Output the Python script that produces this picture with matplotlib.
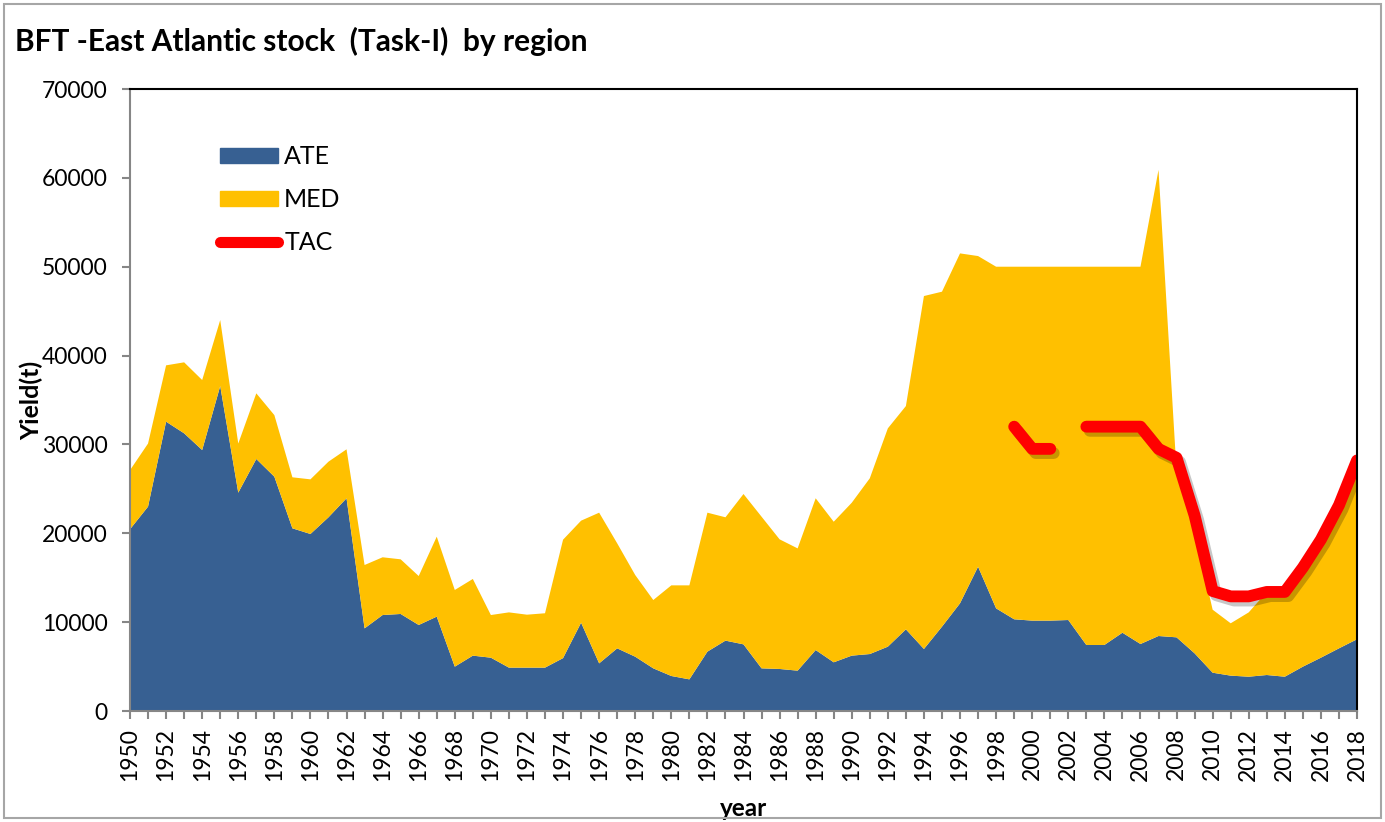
import matplotlib.pyplot as plt
import matplotlib.patheffects as pe
from matplotlib.patches import Rectangle
from matplotlib.lines import Line2D
import numpy as np

plt.rcParams['font.family'] = ['Lato', 'DejaVu Sans']

years = list(range(1950, 2019))

# catches by region (t)
ate = [20450, 23000, 32560, 31250, 29370, 36570, 24570, 28360, 26370, 20560,
       19920, 21800, 23940, 9300, 10800, 10920, 9680, 10620, 4990, 6230,
       6000, 4880, 4880, 4880, 5950, 9940, 5360, 7050, 6110, 4800,
       3940, 3560, 6680, 7920, 7500, 4800, 4730, 4540, 6860, 5480,
       6230, 6410, 7240, 9190, 6980, 9490, 12120, 16240, 11550, 10320,
       10170, 10170, 10240, 7430, 7430, 8810, 7540, 8440, 8290, 6490,
       4310, 3980, 3860, 4050, 3860, 4990, 6000, 7050, 8070]
med = [6650, 7100, 6340, 7990, 7880, 7430, 5530, 7390, 6930, 5740,
       6150, 6260, 5510, 7130, 6500, 6150, 5510, 9000, 8630, 8630,
       4800, 6220, 5960, 6120, 13330, 11480, 16960, 11820, 9190, 7690,
       10200, 10580, 15640, 13880, 16920, 17070, 14590, 13760, 17080, 15820,
       17210, 19780, 24570, 25130, 39720, 37700, 39380, 34960, 38450, 39680,
       39830, 39830, 39760, 42570, 42570, 41190, 42460, 52460, 18710, 13710,
       7090, 5890, 7240, 9350, 9540, 11110, 13200, 16050, 19930]

# TAC (t), no value drawn for 2002
tac_years = list(range(1999, 2019))
tac = [32000, 29500, 29500, np.nan, 32000, 32000, 32000, 32000, 29500, 28500,
       22000, 13500, 12900, 12900, 13400, 13400, 16142, 19296, 23155, 28200]

ate_color = '#376092'
med_color = '#FFC000'
tac_color = '#FF0000'

fig = plt.figure(figsize=(13.85, 8.22), dpi=100)
ax = fig.add_axes([130 / 1385, 1 - 711 / 822, 1227 / 1385, 622 / 822])

ax.stackplot(years, ate, med, colors=[ate_color, med_color], lw=0)
ax.plot(tac_years, tac, color=tac_color, lw=8.5, solid_capstyle='round',
        solid_joinstyle='round',
        path_effects=[pe.SimpleLineShadow(offset=(2.5, -3), shadow_color='k', alpha=0.22),
                      pe.Normal()])

ax.set_xlim(1950, 2018)
ax.set_ylim(0, 70000)
ax.set_yticks(range(0, 70001, 10000))
ax.set_xticks(years)
ax.set_xticklabels([str(y) if y % 2 == 0 else '' for y in years], rotation=90)

ax.tick_params(axis='both', direction='out', length=6, width=1.5, color='#868686',
               labelsize=16.5, labelcolor='black')
ax.tick_params(axis='x', pad=6)
ax.tick_params(axis='y', pad=10)
for s in ['left', 'bottom']:
    ax.spines[s].set_color('#868686')
    ax.spines[s].set_linewidth(1.5)
for s in ['top', 'right']:
    ax.spines[s].set_color('black')
    ax.spines[s].set_linewidth(1.5)

ax.set_xlabel('year', fontsize=17.5, fontweight='bold')
ax.set_ylabel('Yield(t)', fontsize=18, fontweight='bold')
ax.xaxis.set_label_coords(0.5, -0.138)
ax.yaxis.set_label_coords(-0.071, 0.5)

handles = [Rectangle((0, 0), 1, 1, color=ate_color),
           Rectangle((0, 0), 1, 1, color=med_color),
           Line2D([], [], color=tac_color, lw=8, solid_capstyle='round')]
ax.legend(handles, ['ATE', 'MED', 'TAC'], loc='upper left',
          bbox_to_anchor=(0.0635, 0.93), frameon=False, fontsize=18,
          handlelength=2.3, handleheight=0.55, handletextpad=0.25,
          labelspacing=0.8, borderpad=0)

fig.text(0.011, 1 - 41 / 822, 'BFT -East Atlantic stock  (Task-I)  by region',
         fontsize=21.5, fontweight='bold', va='center', ha='left')

# outer chart border
fig.patches.append(Rectangle((0.003, 0.005), 0.994, 0.99, transform=fig.transFigure,
                             fill=False, edgecolor='#a6a6a6', lw=1.5))

fig.savefig('out.png', dpi=100)
